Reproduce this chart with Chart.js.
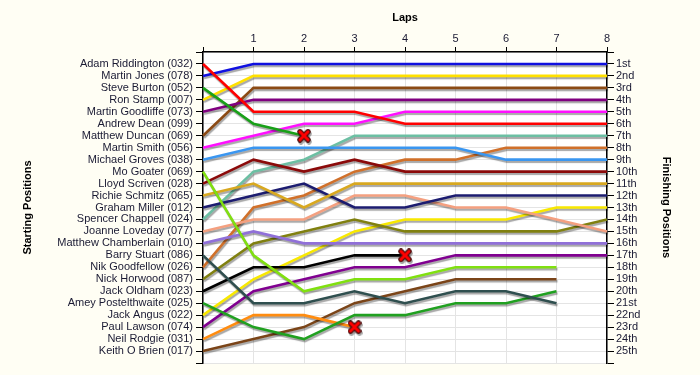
<!DOCTYPE html>
<html>
<head>
<meta charset="utf-8">
<script src="https://cdn.jsdelivr.net/npm/chart.js@4/dist/chart.umd.min.js"></script>
<style>
  html, body { margin: 0; padding: 0; background: #fffef4; }
  #wrap { width: 700px; height: 375px; }
</style>
</head>
<body>
<div id="wrap"><canvas id="lapChart" width="700" height="375"></canvas></div>
<script>
// Lap chart: position of each driver at the end of every lap

const laps = ['0', '1', '2', '3', '4', '5', '6', '7', '8'];
const finishLabels = ['1st', '2nd', '3rd', '4th', '5th', '6th', '7th', '8th', '9th', '10th', '11th', '12th', '13th',
  '14th', '15th', '16th', '17th', '18th', '19th', '20th', '21st', '22nd', '23rd', '24th', '25th'];

const startNames = ['Adam Riddington (032)', 'Martin Jones (078)', 'Steve Burton (052)', 'Ron Stamp (007)',
  'Martin Goodliffe (073)', 'Andrew Dean (099)', 'Matthew Duncan (069)', 'Martin Smith (056)',
  'Michael Groves (038)', 'Mo Goater (069)', 'Lloyd Scriven (028)', 'Richie Schmitz (065)',
  'Graham Miller (012)', 'Spencer Chappell (024)', 'Joanne Loveday (077)', 'Matthew Chamberlain (010)',
  'Barry Stuart (086)', 'Nik Goodfellow (026)', 'Nick Horwood (087)', 'Jack Oldham (023)',
  'Amey Postelthwaite (025)', 'Jack Angus (022)', 'Paul Lawson (074)', 'Neil Rodgie (031)',
  'Keith O Brien (017)'];

// positions lap by lap (index 0 = grid)
const riddington    = [1, 5, 5, 5, 6, 6, 6, 6, 6];
const jones         = [2, 1, 1, 1, 1, 1, 1, 1, 1];
const burton        = [3, 6, 7];
const stamp         = [4, 2, 2, 2, 2, 2, 2, 2, 2];
const goodliffe     = [5, 4, 4, 4, 4, 4, 4, 4, 4];
const dean          = [];
const duncan        = [7, 3, 3, 3, 3, 3, 3, 3, 3];
const smith         = [8, 7, 6, 6, 5, 5, 5, 5, 5];
const groves        = [9, 8, 8, 8, 8, 8, 9, 9, 9];
const goater        = [10, 17, 20, 19, 19, 18, 18, 18];
const scriven       = [11, 9, 10, 9, 10, 10, 10, 10, 10];
const schmitz       = [12, 11, 13, 11, 11, 11, 11, 11, 11];
const miller        = [13, 12, 11, 13, 13, 12, 12, 12, 12];
const chappell      = [14, 10, 9, 7, 7, 7, 7, 7, 7];
const loveday       = [15, 14, 14, 12, 12, 13, 13, 14, 15];
const chamberlain   = [16, 15, 16, 16, 16, 16, 16, 16, 16];
const stuart        = [17, 21, 21, 20, 21, 20, 20, 21];
const goodfellow    = [18, 13, 12, 10, 9, 9, 8, 8, 8];
const horwood       = [19, 16, 15, 14, 15, 15, 15, 15, 14];
const oldham        = [20, 18, 18, 17, 17];
const postelthwaite = [21, 23, 24, 22, 22, 21, 21, 20];
const angus         = [22, 19, 17, 15, 14, 14, 14, 13, 13];
const lawson        = [23, 20, 19, 18, 18, 17, 17, 17, 17];
const rodgie        = [24, 22, 22, 23];
const obrien        = [25, 24, 23, 21, 20, 19, 19, 19];

const driverPositions = [riddington, jones, burton, stamp, goodliffe, dean, duncan, smith, groves, goater,
  scriven, schmitz, miller, chappell, loveday, chamberlain, stuart, goodfellow, horwood, oldham,
  postelthwaite, angus, lawson, rodgie, obrien];

const retired = [false, false, true, false, false, false, false, false, false, false,
  false, false, false, false, false, false, false, false, false, true,
  false, false, false, true, false];

const lineColors = ['#ff0000', '#1010e0', '#18a018', '#ffe000', '#800080', '#999999', '#8b4a14', '#ff10ff',
  '#3a96f0', '#80e010', '#8b0a0a', '#d8a820', '#1c1c70', '#6cbfa3', '#f4a080', '#9070d8',
  '#2f4f4f', '#d0702a', '#808010', '#000000', '#20a020', '#f8e800', '#800090', '#ff8c10', '#7a4418'];

// red cross used for retirements
function makeCross() {
  const c = document.createElement('canvas');
  c.width = 14; c.height = 14;
  const g = c.getContext('2d');
  g.lineCap = 'round';
  g.beginPath();
  g.moveTo(3, 3); g.lineTo(11, 11);
  g.moveTo(11, 3); g.lineTo(3, 11);
  g.strokeStyle = '#501010'; g.lineWidth = 5.5; g.stroke();
  g.strokeStyle = '#ff0000'; g.lineWidth = 3; g.stroke();
  return c;
}
const crossImg = makeCross();

const datasets = driverPositions.map((pos, i) => ({
  label: startNames[i],
  data: pos.map((p, lap) => ({ x: lap, y: p })),
  borderColor: lineColors[i],
  backgroundColor: lineColors[i],
  borderWidth: 2.6,
  tension: 0,
  fill: false,
  clip: false,
  pointStyle: crossImg,
  pointRadius: ctx => (retired[i] && ctx.dataIndex === pos.length - 1) ? 6 : 0,
  pointHoverRadius: 0
}));

const bgPlugin = {
  id: 'bg',
  beforeDraw(chart) {
    const { ctx, chartArea: a } = chart;
    ctx.save();
    ctx.fillStyle = '#fffef4';
    ctx.fillRect(0, 0, chart.width, chart.height);
    ctx.fillStyle = '#ffffff';
    ctx.fillRect(a.left, a.top, a.right - a.left, a.bottom - a.top);
    ctx.restore();
  }
};

const shadowPlugin = {
  id: 'lineShadow',
  beforeDatasetDraw(chart) {
    const ctx = chart.ctx;
    ctx.save();
    ctx.shadowColor = 'rgba(0,0,0,0.35)';
    ctx.shadowOffsetX = 1;
    ctx.shadowOffsetY = 2;
    ctx.shadowBlur = 1;
  },
  afterDatasetDraw(chart) {
    chart.ctx.restore();
  }
};

const titlePlugin = {
  id: 'titles',
  afterDraw(chart) {
    const { ctx, chartArea: a } = chart;
    const midY = (a.top + a.bottom) / 2;
    ctx.save();
    ctx.fillStyle = '#000';
    ctx.font = 'bold 11px "Liberation Sans", Arial, sans-serif';
    ctx.textAlign = 'center';
    ctx.textBaseline = 'middle';
    ctx.fillText('Laps', (a.left + a.right) / 2, 18);
    ctx.save();
    ctx.translate(28, midY);
    ctx.rotate(-Math.PI / 2);
    ctx.fillText('Starting Positions', 0, 0);
    ctx.restore();
    ctx.save();
    ctx.translate(666, midY);
    ctx.rotate(Math.PI / 2);
    ctx.fillText('Finishing Positions', 0, 0);
    ctx.restore();
    ctx.restore();
  }
};

const tickFont = { family: '"Liberation Sans", Arial, sans-serif', size: 11 };

new Chart(document.getElementById('lapChart'), {
  type: 'line',
  data: { datasets: datasets },
  plugins: [bgPlugin, shadowPlugin, titlePlugin],
  options: {
    responsive: false,
    animation: false,
    layout: { padding: { left: 0, right: 0, top: 0, bottom: 12 } },
    plugins: { legend: { display: false }, tooltip: { enabled: false } },
    scales: {
      x: {
        type: 'linear',
        position: 'top',
        min: 0,
        max: 8,
        afterFit: s => { s.height = 52; },
        ticks: {
          stepSize: 1,
          color: '#1a1a33',
          font: tickFont,
          padding: 1,
          callback: v => (v === 0 ? '' : laps[v])
        },
        grid: { color: '#e4e4e4', tickColor: '#000', tickLength: 5 },
        border: { color: '#000', width: 1.5 }
      },
      y: {
        type: 'linear',
        position: 'left',
        min: 0,
        max: 26,
        reverse: true,
        afterFit: s => { s.width = 203; },
        ticks: {
          stepSize: 1,
          autoSkip: false,
          color: '#1a1a33',
          font: tickFont,
          padding: 3,
          callback: v => startNames[v - 1] || ''
        },
        grid: { color: '#e4e4e4', tickColor: '#000', tickLength: 7 },
        border: { color: '#000', width: 1.5 }
      },
      y2: {
        type: 'linear',
        position: 'right',
        min: 0,
        max: 26,
        reverse: true,
        afterFit: s => { s.width = 93; },
        ticks: {
          stepSize: 1,
          autoSkip: false,
          color: '#1a1a33',
          font: tickFont,
          padding: 2,
          callback: v => finishLabels[v - 1] || ''
        },
        grid: { drawOnChartArea: false, tickColor: '#000', tickLength: 7 },
        border: { color: '#000', width: 1.5 }
      }
    }
  }
});
</script>
</body>
</html>
